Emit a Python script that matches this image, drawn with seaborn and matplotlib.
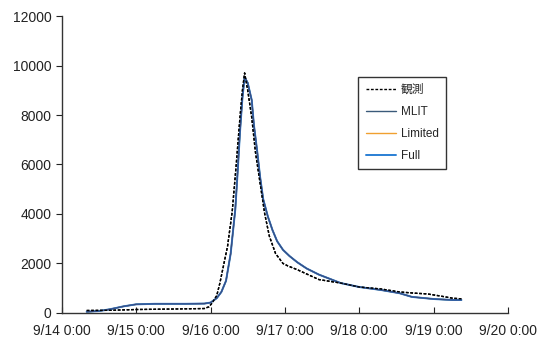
import matplotlib
matplotlib.use("Agg")
import matplotlib.pyplot as plt
import seaborn as sns
import pandas as pd

# hours since 9/14 0:00
obs_h = [8, 16, 24, 36, 46, 47.5, 48.5, 50, 51, 52, 53.5, 55, 56.3, 57.5, 58.3, 59, 60, 61.3, 62.5, 64, 65.5, 67, 69, 71.4, 73, 76, 83, 90, 96, 103, 109, 114, 118, 122, 126, 129]
obs_v = [100, 110, 140, 160, 180, 250, 400, 700, 1200, 1800, 2700, 4100, 6000, 7900, 9000, 9700, 9000, 7900, 6500, 5250, 4000, 3100, 2400, 2000, 1900, 1750, 1350, 1210, 1050, 970, 850, 800, 770, 690, 600, 570]

sim_h = [8, 12, 15.5, 20, 24, 30, 40, 46, 48, 50, 51.5, 53, 54.5, 56, 56.8, 57.5, 58.3, 59, 60, 61.3, 62, 63, 64, 65, 66.5, 68, 69.5, 71.4, 73.5, 76, 79, 83, 90, 96, 103, 109, 113, 120, 126, 129]
mlit_v = [50, 80, 150, 270, 350, 370, 370, 380, 420, 600, 850, 1300, 2400, 4200, 5800, 7300, 8700, 9550, 9300, 8600, 7600, 6600, 5500, 4600, 3900, 3350, 2900, 2550, 2300, 2050, 1800, 1550, 1210, 1050, 930, 800, 650, 565, 525, 525]
limited_v = [50, 80, 150, 270, 350, 370, 370, 380, 420, 600, 850, 1300, 2400, 4200, 5800, 7300, 8700, 9500, 9300, 8600, 7600, 6600, 5500, 4600, 3900, 3350, 2900, 2550, 2300, 2050, 1800, 1550, 1210, 1050, 930, 800, 650, 565, 525, 525]
full_v = [50, 80, 150, 270, 350, 370, 370, 380, 420, 600, 850, 1300, 2400, 4200, 5800, 7300, 8700, 9500, 9300, 8600, 7600, 6600, 5500, 4600, 3900, 3350, 2900, 2550, 2300, 2050, 1800, 1550, 1210, 1050, 930, 800, 650, 565, 525, 525]

tick_hours = [0, 24, 48, 72, 96, 120, 144]
tick_labels = ["9/14 0:00", "9/15 0:00", "9/16 0:00", "9/17 0:00", "9/18 0:00", "9/19 0:00", "9/20 0:00"]
y_ticks = [0, 2000, 4000, 6000, 8000, 10000, 12000]

sns.set_style("white")
plt.rcParams['font.family'] = ['Liberation Sans', 'Noto Sans CJK JP', 'DejaVu Sans']

fig = plt.figure(figsize=(5.38, 3.45), dpi=100)
ax = fig.add_axes([0.115, 0.0928, 0.829, 0.8608])

obs = pd.DataFrame({"h": obs_h, "v": obs_v})
sim = pd.DataFrame({"h": sim_h, "mlit": mlit_v, "limited": limited_v, "full": full_v})

sns.lineplot(data=obs, x="h", y="v", ax=ax, color="black", linestyle=(0, (2, 1.2)), linewidth=1.0, label="観測")
sns.lineplot(data=sim, x="h", y="mlit", ax=ax, color="#3a5a7a", linewidth=1.0, label="MLIT")
sns.lineplot(data=sim, x="h", y="limited", ax=ax, color="#f0a030", linewidth=1.0, label="Limited")
sns.lineplot(data=sim, x="h", y="full", ax=ax, color="#2a7fd4", linewidth=1.4, label="Full")
# thin MLIT and observed on top
ax.plot(sim_h, mlit_v, color="#3a4a80", linewidth=0.8)
ax.plot(obs_h, obs_v, color="black", linestyle=(0, (2, 1.2)), linewidth=1.0)

ax.set_xlim(0, 144)
ax.set_ylim(0, 12000)
ax.set_xticks(tick_hours)
ax.set_xticklabels(tick_labels)
ax.set_yticks(y_ticks)
ax.set_xlabel("")
ax.set_ylabel("")
for s in ["top", "right"]:
    ax.spines[s].set_visible(False)
for s in ["left", "bottom"]:
    ax.spines[s].set_color("#333333")
    ax.spines[s].set_linewidth(1.0)
ax.tick_params(axis="y", direction="out", length=4, labelsize=10, colors="#222222", left=True)
ax.tick_params(axis="x", direction="in", length=4, labelsize=10, colors="#222222", bottom=True, pad=8)

leg = ax.legend(loc="upper left", bbox_to_anchor=(0.665, 0.795), frameon=True, fancybox=False,
                edgecolor="black", fontsize=8.5, handlelength=2.6, handletextpad=0.4,
                labelspacing=0.85, borderpad=0.6, borderaxespad=0)
leg.get_frame().set_linewidth(1.0)

fig.savefig("out.png", dpi=100)
